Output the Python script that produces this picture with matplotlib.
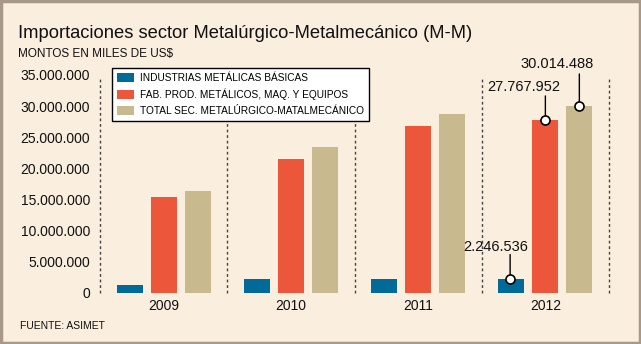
import matplotlib.pyplot as plt
import numpy as np
from matplotlib.patches import Rectangle
from matplotlib.ticker import FuncFormatter

# Data (miles de US$)
years = ['2009', '2010', '2011', '2012']
basicas = [1150000, 2200000, 2250000, 2246536]
fab_prod = [15300000, 21500000, 26800000, 27767952]
total_sec = [16300000, 23400000, 28800000, 30014488]
labels = ['INDUSTRIAS METÁLICAS BÁSICAS',
          'FAB. PROD. METÁLICOS, MAQ. Y EQUIPOS',
          'TOTAL SEC. METALÚRGICO-MATALMECÁNICO']

bg = '#FAEEDE'
c_blue = '#006B99'
c_red = '#EC563B'
c_tan = '#C9B98F'
font = ['Liberation Sans', 'DejaVu Sans']

fig = plt.figure(figsize=(6.41, 3.44), dpi=100, facecolor=bg)
ax = fig.add_axes([100/641, 1 - 292.5/344, 509/641, 217.5/344])
ax.set_facecolor('none')

x = np.arange(len(years))
w = 0.205
step = 0.267
ax.bar(x - step, basicas, w, color=c_blue, label=labels[0], zorder=2)
ax.bar(x, fab_prod, w, color=c_red, label=labels[1], zorder=2)
ax.bar(x + step, total_sec, w, color=c_tan, label=labels[2], zorder=2)

# dotted separators
for b in np.arange(-0.5, len(years), 1.0):
    ax.axvline(b, ymin=0, ymax=0.99, color='#444444', lw=1, ls=(0, (2, 2)),
               zorder=1, clip_on=False)

ax.set_xlim(-0.5, 3.5)
ax.set_ylim(0, 35000000)
ax.set_yticks(np.arange(0, 35000001, 5000000))
ax.yaxis.set_major_formatter(FuncFormatter(lambda v, p: f'{v:,.0f}'.replace(',', '.')))
ax.set_xticks(x)
ax.set_xticklabels(years)
ax.tick_params(axis='both', length=0, labelsize=10, labelcolor='#111111')
ax.tick_params(axis='y', pad=7)
ax.tick_params(axis='x', pad=5)
for lab in ax.get_xticklabels() + ax.get_yticklabels():
    lab.set_family(font)
for s in ax.spines.values():
    s.set_visible(False)

# callouts for 2012
def callout(xv, yv, line_h, dx, dy):
    ax.annotate('', xy=(xv, yv), xytext=(0, line_h), textcoords='offset pixels',
                arrowprops=dict(arrowstyle='-', lw=1, color='black', shrinkA=0, shrinkB=0), zorder=4)
    ax.plot([xv], [yv], 'o', ms=6.5, mfc='white', mec='black', mew=1.2, zorder=5)
    ax.annotate(f'{yv:,.0f}'.replace(',', '.'), xy=(xv, yv), xytext=(dx, dy),
                textcoords='offset pixels', ha='right', va='baseline',
                fontsize=10.5, family=font, color='#111111', zorder=5)

callout(3 - step - 0.01, basicas[3], 24, 18, 28)
callout(3, fab_prod[3], 24, 15, 29)
callout(3 + step, total_sec[3], 32, 14, 38)

leg = ax.legend(loc='upper left', bbox_to_anchor=(112/641, 1 - 68/344),
                bbox_transform=fig.transFigure, borderaxespad=0,
                frameon=True, fancybox=False, edgecolor='black', facecolor='white',
                framealpha=1, prop={'family': font, 'size': 7.3},
                handlelength=1.7, handleheight=1.0, handletextpad=0.6,
                labelspacing=0.55, borderpad=0.5)
leg.get_frame().set_linewidth(1)
leg.set_zorder(6)

fig.text(18/641, 1 - 38/344, 'Importaciones sector Metalúrgico-Metalmecánico (M-M)',
         fontsize=13.2, family=font, color='#111111', va='baseline')
fig.text(18/641, 1 - 57/344, 'MONTOS EN MILES DE US$',
         fontsize=8.5, family=font, color='#111111', va='baseline')
fig.text(20/641, 1 - 329/344, 'FUENTE: ASIMET',
         fontsize=7.5, family=font, color='#111111', va='baseline')

fig.patches.append(Rectangle((0.0015, 0.003), 0.997, 0.994, transform=fig.transFigure,
                             fill=False, edgecolor='#A89888', lw=2.5))

fig.savefig('out.png', dpi=100, facecolor=bg)
